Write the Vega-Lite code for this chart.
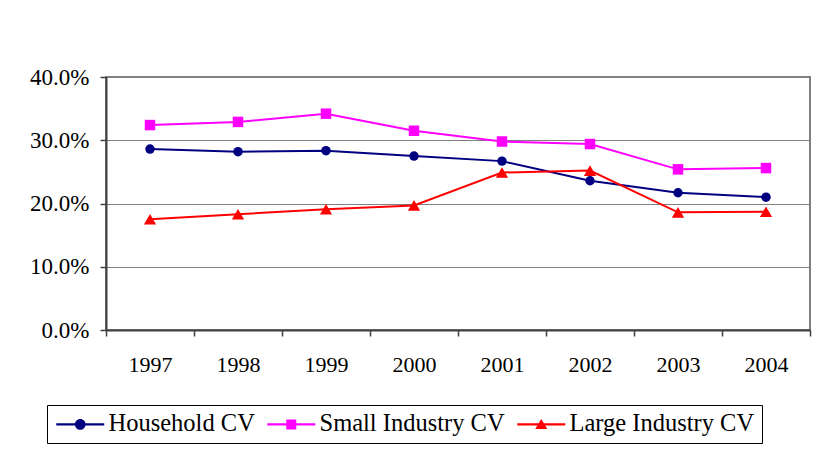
{
  "$schema": "https://vega.github.io/schema/vega-lite/v6.json",
  "width": 704,
  "height": 253,
  "autosize": "none",
  "padding": {"left": 106, "top": 77, "right": 15, "bottom": 136},
  "background": "white",
  "config": {
    "font": "Liberation Serif",
    "view": {"stroke": "#808080", "strokeWidth": 2}
  },
  "data": {
    "values": [
      {"year": "1997", "series": "Household CV", "value": 0.286},
      {"year": "1998", "series": "Household CV", "value": 0.282},
      {"year": "1999", "series": "Household CV", "value": 0.2835},
      {"year": "2000", "series": "Household CV", "value": 0.275},
      {"year": "2001", "series": "Household CV", "value": 0.267},
      {"year": "2002", "series": "Household CV", "value": 0.236},
      {"year": "2003", "series": "Household CV", "value": 0.217},
      {"year": "2004", "series": "Household CV", "value": 0.210},
      {"year": "1997", "series": "Small Industry CV", "value": 0.324},
      {"year": "1998", "series": "Small Industry CV", "value": 0.329},
      {"year": "1999", "series": "Small Industry CV", "value": 0.342},
      {"year": "2000", "series": "Small Industry CV", "value": 0.315},
      {"year": "2001", "series": "Small Industry CV", "value": 0.298},
      {"year": "2002", "series": "Small Industry CV", "value": 0.294},
      {"year": "2003", "series": "Small Industry CV", "value": 0.254},
      {"year": "2004", "series": "Small Industry CV", "value": 0.256},
      {"year": "1997", "series": "Large Industry CV", "value": 0.175},
      {"year": "1998", "series": "Large Industry CV", "value": 0.183},
      {"year": "1999", "series": "Large Industry CV", "value": 0.191},
      {"year": "2000", "series": "Large Industry CV", "value": 0.197},
      {"year": "2001", "series": "Large Industry CV", "value": 0.249},
      {"year": "2002", "series": "Large Industry CV", "value": 0.252},
      {"year": "2003", "series": "Large Industry CV", "value": 0.186},
      {"year": "2004", "series": "Large Industry CV", "value": 0.187}
    ]
  },
  "encoding": {
    "x": {
      "field": "year",
      "type": "ordinal",
      "scale": {"type": "band", "paddingInner": 0, "paddingOuter": 0},
      "axis": {
        "title": null,
        "labelAngle": 0,
        "tickBand": "extent",
        "domainColor": "#404040",
        "domainWidth": 2,
        "tickColor": "#404040",
        "tickWidth": 1.5,
        "tickSize": 6,
        "labelFontSize": 22,
        "labelColor": "black",
        "labelPadding": 18,
        "grid": false
      }
    },
    "y": {
      "field": "value",
      "type": "quantitative",
      "scale": {"domain": [0, 0.4]},
      "axis": {
        "title": null,
        "values": [0, 0.1, 0.2, 0.3, 0.4],
        "format": ".1%",
        "grid": true,
        "gridColor": "#808080",
        "gridWidth": 1,
        "domainColor": "#404040",
        "domainWidth": 2,
        "tickColor": "#404040",
        "tickWidth": 1.5,
        "tickSize": 6,
        "labelFontSize": 23,
        "labelColor": "black",
        "labelPadding": 11
      }
    }
  },
  "layer": [
    {
      "transform": [{"filter": "datum.series === 'Household CV'"}],
      "mark": {"type": "line", "color": "#000080", "strokeWidth": 2,
        "point": {"shape": "circle", "size": 90, "filled": true, "color": "#000080"}}
    },
    {
      "transform": [{"filter": "datum.series === 'Small Industry CV'"}],
      "mark": {"type": "line", "color": "#FF00FF", "strokeWidth": 2,
        "point": {"shape": "square", "size": 110, "filled": true, "color": "#FF00FF"}}
    },
    {
      "transform": [{"filter": "datum.series === 'Large Industry CV'"}],
      "mark": {"type": "line", "color": "#FF0000", "strokeWidth": 2,
        "point": {"shape": "triangle-up", "size": 150, "filled": true, "color": "#FF0000"}}
    },
    {
      "transform": [{"filter": "datum.value < 0"}],
      "mark": {"type": "point", "filled": true, "opacity": 1},
      "encoding": {
        "color": {
          "field": "series",
          "type": "nominal",
          "scale": {"domain": ["Household CV", "Small Industry CV", "Large Industry CV"], "range": ["#000080", "#FF00FF", "#FF0000"]},
          "legend": {
            "orient": "none", "legendX": -59, "legendY": 328, "direction": "horizontal",
            "title": null, "strokeColor": "black", "fillColor": "white",
            "padding": 7, "labelFontSize": 24.5, "labelColor": "black", "labelFont": "Liberation Serif",
            "labelLimit": 400, "symbolSize": 400, "symbolOffset": 14, "columnPadding": 10, "labelOffset": 16
          }
        },
        "shape": {
          "field": "series",
          "type": "nominal",
          "scale": {
            "domain": ["Household CV", "Small Industry CV", "Large Industry CV"],
            "range": [
              "M-2.4,-0.12H2.4V0.12H-2.4Z M0.53,0A0.53,0.53,0,1,1,-0.53,0A0.53,0.53,0,1,1,0.53,0Z",
              "M-2.4,-0.12H2.4V0.12H-2.4Z M-0.5,-0.5H0.5V0.5H-0.5Z",
              "M-2.4,-0.12H2.4V0.12H-2.4Z M0,-0.55L0.6,0.45L-0.6,0.45Z"
            ]
          },
          "legend": {
            "orient": "none", "legendX": -59, "legendY": 328, "direction": "horizontal",
            "title": null, "strokeColor": "black", "fillColor": "white",
            "padding": 7, "labelFontSize": 24.5, "labelColor": "black", "labelFont": "Liberation Serif",
            "labelLimit": 400, "symbolSize": 400, "symbolOffset": 14, "columnPadding": 10, "labelOffset": 16
          }
        }
      }
    }
  ]
}
